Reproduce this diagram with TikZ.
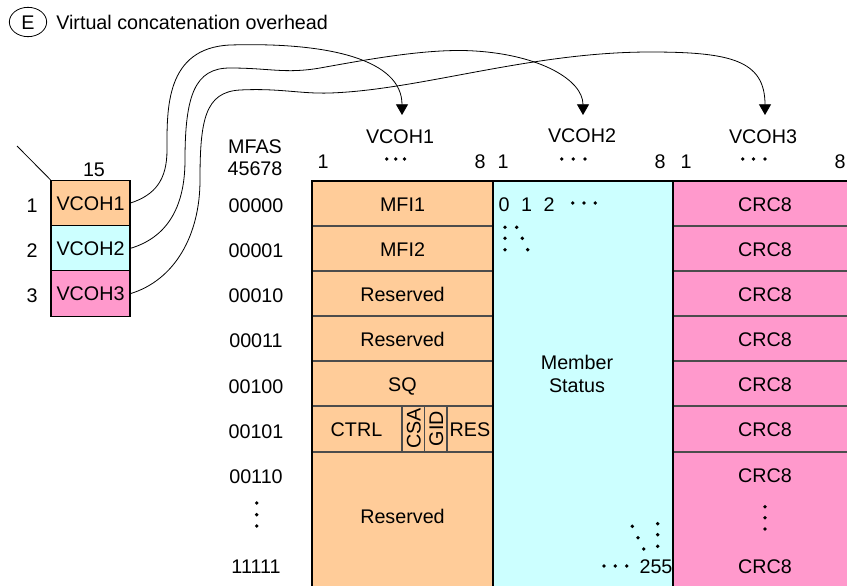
\documentclass[tikz,border=0pt]{standalone}
\usepackage{fontspec}
\setmainfont{Liberation Sans}
\usetikzlibrary{arrows.meta,shapes.geometric}
\definecolor{peach}{RGB}{255,204,153}
\definecolor{aqua}{RGB}{204,255,255}
\definecolor{rose}{RGB}{255,153,204}
\newcommand{\dotrow}[1]{\foreach \p in {#1} \fill (\p) circle (1.45pt);}
\begin{document}
\begin{tikzpicture}[x=0.75pt,y=-0.75pt,
  lbl/.style={font=\fontsize{14.8}{17.5}\selectfont, inner sep=0pt, text height=10.6pt, text depth=0pt},
  lcell/.style={lbl, draw, line width=0.8pt, minimum width=59.25pt, minimum height=34pt},
  sep/.style={line width=0.8pt, draw=black!70},
  border/.style={line width=0.8pt},
  link/.style={line width=0.6pt, -{Triangle[width=9pt,length=8pt]}}]
\useasboundingbox (0,0) rectangle (847,586);

% caption
\node[draw, ellipse, line width=0.6pt, lbl, minimum width=28pt, minimum height=22pt] (tag) at (28,22) {E};
\node[lbl, anchor=west] (cap) at (56,22) {Virtual concatenation overhead};

% overhead byte column (position 15)
\node[lcell, fill=peach] (v1) at (90.5,203) {VCOH1};
\node[lcell, fill=aqua]  (v2) at (90.5,248.3) {VCOH2};
\node[lcell, fill=rose]  (v3) at (90.5,293.6) {VCOH3};
\node[lbl] (n15) at (94,169) {15};
\node[lbl] (r1) at (32,205) {1};
\node[lbl] (r2) at (32,250) {2};
\node[lbl] (r3) at (32,295) {3};
\coordinate (lead) at (17,146);
\draw[line width=0.6pt] (lead) -- (v1.north west);

% multiframe columns
\fill[peach] (312,181) rectangle (493,590);
\fill[aqua]  (493,181) rectangle (673,590);
\fill[rose]  (673,181) rectangle (860,590);
\foreach \y in {226,271,316,361,406,452} {
  \draw[sep] (312,\y) -- (493,\y);
  \draw[sep] (673,\y) -- (860,\y);
}
\draw[sep] (402,406) -- (402,452);
\draw[sep] (424.5,406) -- (424.5,452);
\draw[sep] (447,406) -- (447,452);
\draw[border] (312,590) -- (312,181) -- (860,181);
\draw[border] (493,181) -- (493,590);
\draw[border] (673,181) -- (673,590);

% column headings
\node[lbl] (h1) at (400,136) {VCOH1};
\node[lbl] (h2) at (582,135) {VCOH2};
\node[lbl] (h3) at (763,136) {VCOH3};
\node[lbl] (b1a) at (323,161) {1};
\node[lbl] (b1b) at (480,161) {8};
\node[lbl] (b2a) at (503,161) {1};
\node[lbl] (b2b) at (660,161) {8};
\node[lbl] (b3a) at (686,161) {1};
\node[lbl] (b3b) at (840,161) {8};
\dotrow{{386.7,159},{395.7,159},{404.5,159}}
\dotrow{{561.7,159},{573.3,159},{585,159}}
\dotrow{{742.7,159},{753.5,159},{765,159}}

% MFAS numbers
\node[lbl] (mf) at (255,146) {MFAS};
\node[lbl] (mfb) at (255,168) {45678};
\node[lbl] (m0) at (256,205) {00000};
\node[lbl] (m1) at (256,250) {00001};
\node[lbl] (m2) at (256,295.5) {00010};
\node[lbl] (m3) at (256,340.5) {00011};
\node[lbl] (m4) at (256,386) {00100};
\node[lbl] (m5) at (256,431) {00101};
\node[lbl] (m6) at (256,476.5) {00110};
\node[lbl] (m31) at (256,566.5) {11111};
\dotrow{{256.7,503},{256.7,514.7},{256.7,526}}

% VCOH1 contents
\node[lbl] (c0) at (402.5,204) {MFI1};
\node[lbl] (c1) at (402.5,249) {MFI2};
\node[lbl] (c2) at (402.5,294.5) {Reserved};
\node[lbl] (c3) at (402.5,339.5) {Reserved};
\node[lbl] (c4) at (402.5,384.5) {SQ};
\node[lbl] (ctrl) at (356.5,429) {CTRL};
\node[lbl, rotate=90] (csa) at (413.5,428.5) {CSA};
\node[lbl, rotate=90] (gid) at (436,428.5) {GID};
\node[lbl] (res) at (470,429) {RES};
\node[lbl] (c6) at (402.5,516.5) {Reserved};

% VCOH2 contents
\node[lbl] (z0) at (504,204) {0};
\node[lbl] (z1) at (526.7,204) {1};
\node[lbl] (z2) at (549,204) {2};
\dotrow{{572.7,203},{584,203},{595.3,203}}
\dotrow{{505,227.3},{516.7,227.3},{505,238.3},{522.3,238.3},{505,249.7},{527.7,249.7}}
\node[lbl] (ms1) at (577,362) {Member};
\node[lbl] (ms2) at (577,385) {Status};
\dotrow{{632.3,526.3},{638,537.7},{643.7,549},{657.7,523.7},{657.7,534.7},{657.7,546.3}}
\dotrow{{604,566},{615.3,566},{626.7,566}}
\node[lbl] (z255) at (656,566) {255};

% VCOH3 contents
\foreach \y [count=\i] in {204.5,249.5,294.5,339.5,384.5,429.5,475.5} {
  \node[lbl] (k\i) at (765,\y) {CRC8};
}
\dotrow{{765,506.7},{765,517.7},{765,529}}
\node[lbl] (klast) at (765,566) {CRC8};

% links from the overhead bytes to the column headings
\coordinate (t1) at (402,115);
\coordinate (t2) at (583,115);
\coordinate (t3) at (765,115);
\draw[link] (v1.east) .. controls (155,195) and (167,180) .. (167,150)
  .. controls (167,110) and (165,48) .. (230,45)
  .. controls (330,42) and (402,60) .. (t1);
\draw[link] (v2.east) .. controls (165,238) and (185,210) .. (185,160)
  .. controls (185,95) and (195,68) .. (230,68)
  .. controls (270,68) and (285,74) .. (320,68)
  .. controls (370,59) and (430,48) .. (475,51)
  .. controls (540,55) and (583,80) .. (t2);
\draw[link] (v3.east) .. controls (175,280) and (200,235) .. (200,180)
  .. controls (200,120) and (205,92) .. (240,90)
  .. controls (280,88) and (300,94) .. (330,93)
  .. controls (420,90) and (530,52) .. (650,52)
  .. controls (730,52) and (765,60) .. (t3);
\end{tikzpicture}
\end{document}
